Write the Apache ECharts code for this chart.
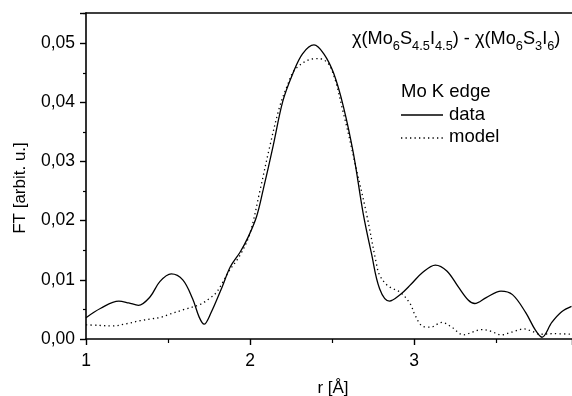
<!DOCTYPE html>
<html>
<head>
<meta charset="utf-8">
<script src="https://cdn.jsdelivr.net/npm/echarts@6/dist/echarts.min.js"></script>
<style>
  html, body { margin: 0; padding: 0; background: #fff; }
  #chart { width: 572px; height: 396px; }
</style>
</head>
<body>
<div id="chart"></div>
<script>
// measured curve (solid)
const dataR = [1.00, 1.09, 1.20, 1.26, 1.32, 1.39, 1.45, 1.52, 1.59, 1.65, 1.69, 1.72, 1.76, 1.83, 1.88, 1.94, 1.99, 2.04, 2.08, 2.14, 2.20, 2.26, 2.32, 2.39, 2.45, 2.51, 2.57, 2.63, 2.69, 2.74, 2.79, 2.85, 2.92, 2.98, 3.05, 3.13, 3.20, 3.27, 3.33, 3.37, 3.44, 3.53, 3.60, 3.68, 3.74, 3.78, 3.84, 3.90, 3.96];
const dataFT = [0.0036, 0.0052, 0.0064, 0.0061, 0.0057, 0.0071, 0.0097, 0.0110, 0.0100, 0.0068, 0.0037, 0.0025, 0.0043, 0.0088, 0.0122, 0.0147, 0.0173, 0.0207, 0.0252, 0.0325, 0.0402, 0.0448, 0.0482, 0.0497, 0.0482, 0.0449, 0.0392, 0.0314, 0.0212, 0.0145, 0.0085, 0.0064, 0.0076, 0.0092, 0.0112, 0.0125, 0.0115, 0.0088, 0.0066, 0.0060, 0.0070, 0.0081, 0.0075, 0.0045, 0.0015, 0.0003, 0.0028, 0.0046, 0.0055];

// model curve (dotted)
const modelR = [1.00, 1.08, 1.16, 1.25, 1.33, 1.40, 1.46, 1.51, 1.60, 1.70, 1.75, 1.79, 1.83, 1.87, 1.94, 2.00, 2.06, 2.12, 2.18, 2.23, 2.27, 2.35, 2.42, 2.49, 2.57, 2.65, 2.71, 2.77, 2.79, 2.84, 2.92, 2.98, 3.00, 3.05, 3.10, 3.17, 3.23, 3.30, 3.36, 3.41, 3.47, 3.53, 3.60, 3.67, 3.72, 3.77, 3.85, 3.96];
const modelFT = [0.0024, 0.0023, 0.0022, 0.0026, 0.0031, 0.0034, 0.0037, 0.0042, 0.0050, 0.0059, 0.0068, 0.0077, 0.0094, 0.0114, 0.0142, 0.0179, 0.0250, 0.0325, 0.0392, 0.0430, 0.0454, 0.0471, 0.0474, 0.0460, 0.0381, 0.0285, 0.0212, 0.0128, 0.0108, 0.0090, 0.0078, 0.0058, 0.0044, 0.0022, 0.0020, 0.0028, 0.0020, 0.0007, 0.0012, 0.0016, 0.0013, 0.0007, 0.0012, 0.0017, 0.0013, 0.0008, 0.0009, 0.0008];

const FONT = 'Liberation Sans, Arial, sans-serif';

const pairs = (xs, ys) => xs.map((x, i) => [x, ys[i]]);

const chart = echarts.init(document.getElementById('chart'), null, { renderer: 'canvas' });

chart.setOption({
    animation: false,
    backgroundColor: '#fff',
    grid: { left: 86, right: 0, top: 13, bottom: 57 },
    xAxis: [
        {
            type: 'value',
            min: 1,
            max: 3.963,
            interval: 1,
            axisLine: { lineStyle: { color: '#000', width: 1.6 } },
            axisTick: { inside: false, length: 6, lineStyle: { color: '#000', width: 1.4 } },
            minorTick: { show: true, splitNumber: 2, length: 4, lineStyle: { color: '#000', width: 1.2 } },
            axisLabel: { color: '#000', fontSize: 17.5, fontFamily: FONT, margin: 13,
                showMaxLabel: false,
                formatter: v => Number.isInteger(v) ? String(v) : '' },
            splitLine: { show: false }
        },
        {
            type: 'value',
            position: 'top',
            min: 1,
            max: 3.963,
            axisLine: { show: true, lineStyle: { color: '#000', width: 1.6 } },
            axisTick: { show: false },
            axisLabel: { show: false },
            splitLine: { show: false }
        }
    ],
    yAxis: {
        type: 'value',
        min: 0,
        max: 0.0551,
        interval: 0.01,
        axisLine: { show: true, lineStyle: { color: '#000', width: 1.6 } },
        axisTick: { show: true, inside: false, length: 6, lineStyle: { color: '#000', width: 1.4 } },
        minorTick: { show: true, splitNumber: 2, length: 3, lineStyle: { color: '#000', width: 1.2 } },
        axisLabel: { color: '#000', fontSize: 17.5, fontFamily: FONT, margin: 11,
            showMaxLabel: false,
            formatter: v => Math.abs(v * 100 - Math.round(v * 100)) < 1e-6 ? v.toFixed(2).replace('.', ',') : '' },
        splitLine: { show: false }
    },
    series: [
        {
            name: 'data',
            type: 'line',
            smooth: 0.35,
            symbol: 'none',
            data: pairs(dataR, dataFT),
            lineStyle: { color: '#000', width: 1.3 }
        },
        {
            name: 'model',
            type: 'line',
            smooth: 0.35,
            symbol: 'none',
            data: pairs(modelR, modelFT),
            lineStyle: { color: '#000', width: 1.3, type: [1.3, 3.2] }
        }
    ],
    graphic: [
        {
            type: 'text', x: 333, y: 388,
            style: { text: 'r [Å]', font: '17px ' + FONT, fill: '#000', align: 'center', verticalAlign: 'middle' }
        },
        {
            type: 'text', x: 20, y: 188, rotation: Math.PI / 2,
            style: { text: 'FT [arbit. u.]', font: '17px ' + FONT, fill: '#000', align: 'center', verticalAlign: 'middle' }
        },
        {
            type: 'text', x: 352, y: 30,
            style: {
                text: '{m|χ(Mo}{s|6}{m|S}{s|4.5}{m|I}{s|4.5}{m|) - χ(Mo}{s|6}{m|S}{s|3}{m|I}{s|6}{m|)}',
                fill: '#000',
                rich: {
                    m: { fontSize: 18.2, fontFamily: FONT, lineHeight: 21, verticalAlign: 'top' },
                    s: { fontSize: 12.8, fontFamily: FONT, lineHeight: 15, padding: [10, 0, 0, 0], verticalAlign: 'top' }
                }
            }
        },
        {
            type: 'text', x: 401, y: 92,
            style: { text: 'Mo K edge', font: '18.5px ' + FONT, fill: '#000', verticalAlign: 'middle' }
        },
        {
            type: 'line', shape: { x1: 401, y1: 115, x2: 443, y2: 115 },
            style: { stroke: '#000', lineWidth: 1.3 }
        },
        {
            type: 'text', x: 449, y: 115,
            style: { text: 'data', font: '18.5px ' + FONT, fill: '#000', verticalAlign: 'middle' }
        },
        {
            type: 'line', shape: { x1: 401, y1: 138, x2: 443, y2: 138 },
            style: { stroke: '#000', lineWidth: 1.3, lineDash: [1.3, 3.2] }
        },
        {
            type: 'text', x: 449, y: 137,
            style: { text: 'model', font: '18.5px ' + FONT, fill: '#000', verticalAlign: 'middle' }
        }
    ]
});
</script>
</body>
</html>
